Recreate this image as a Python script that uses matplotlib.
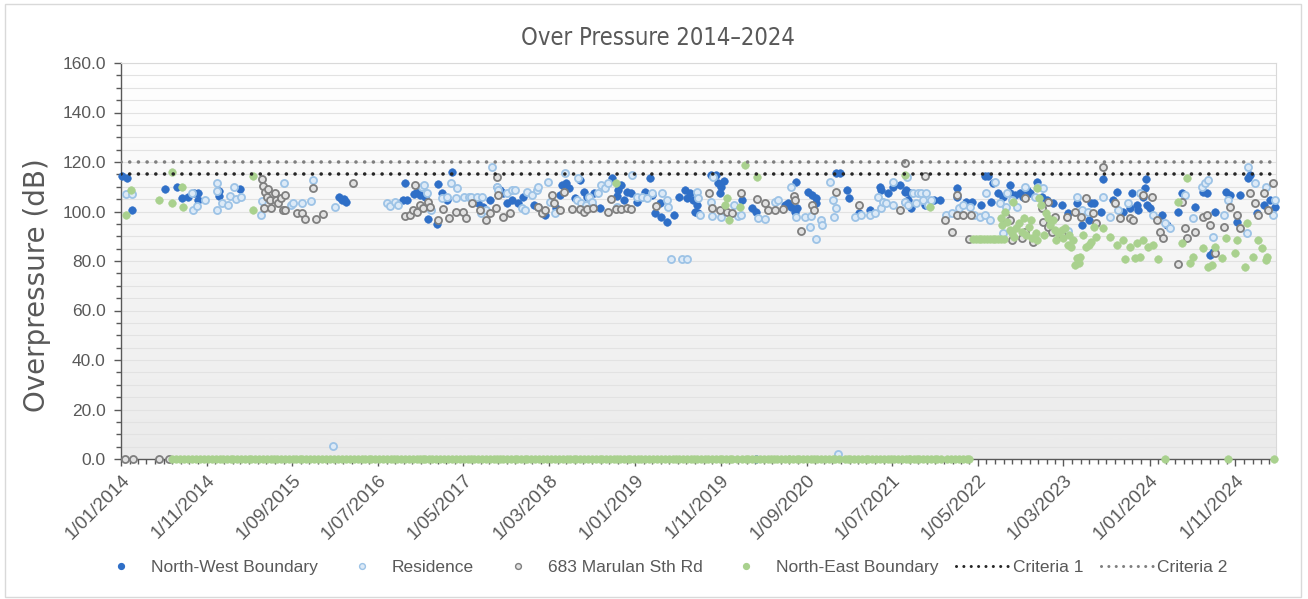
import numpy as np
import pandas as pd
import matplotlib
matplotlib.use("Agg")
import matplotlib.pyplot as plt
from matplotlib.ticker import MultipleLocator, FuncFormatter
from matplotlib.colors import LinearSegmentedColormap
from matplotlib.lines import Line2D
from matplotlib.patches import Rectangle
from matplotlib.transforms import ScaledTranslation
import matplotlib.dates as mdates

plt.rcParams['font.family'] = ['Liberation Sans', 'DejaVu Sans']

TITLE = "Over Pressure 2014\u20132024"
CRITERIA_1 = 115.0
CRITERIA_2 = 120.0
X_START, X_END = "2014-01-01", "2025-03-25"

# blast monitoring results (date, overpressure dB)
north_west = [
    ("2014-01-04", 114.3), ("2014-01-22", 113.5), ("2014-02-09", 100.6),
    ("2014-06-08", 109.1), ("2014-07-20", 110.0), ("2014-08-07", 105.5), ("2014-08-28", 106.0),
    ("2014-09-18", 107.5), ("2014-10-02", 107.5), ("2014-09-30", 104.6),
    ("2014-12-14", 108.3), ("2014-12-16", 106.3), ("2015-03-01", 109.1),
    ("2016-02-14", 106.0), ("2016-02-24", 104.6), ("2016-03-10", 104.0), ("2016-03-04", 105.2),
    ("2016-09-28", 104.6), ("2016-10-05", 111.5), ("2016-10-11", 104.6), ("2016-11-05", 107.0),
    ("2016-11-17", 108.0), ("2016-11-28", 106.7), ("2016-12-15", 106.0), ("2016-12-26", 97.0),
    ("2017-01-27", 95.0), ("2017-01-30", 111.1), ("2017-02-15", 107.5), ("2017-03-03", 104.6),
    ("2017-03-20", 116.0), ("2017-06-20", 103.4), ("2017-07-08", 101.8), ("2017-08-03", 104.6),
    ("2017-08-27", 110.0), ("2017-09-06", 108.7), ("2017-09-18", 107.5), ("2017-10-02", 103.4),
    ("2017-10-21", 104.6), ("2017-11-10", 103.4), ("2017-11-28", 106.0),
    ("2018-01-06", 102.6), ("2018-01-20", 101.8), ("2018-02-13", 98.6), ("2018-03-27", 101.4),
    ("2018-04-07", 106.7), ("2018-04-17", 110.7), ("2018-05-01", 111.5), ("2018-05-11", 109.5),
    ("2018-06-01", 105.4), ("2018-06-17", 112.7), ("2018-07-04", 108.0), ("2018-07-15", 106.0),
    ("2018-07-31", 102.6), ("2018-08-08", 107.5), ("2018-08-28", 101.4), ("2018-09-13", 110.0),
    ("2018-10-09", 113.5), ("2018-10-27", 106.3), ("2018-11-01", 108.7), ("2018-11-13", 110.7),
    ("2018-11-23", 104.6), ("2018-12-01", 108.0), ("2018-12-18", 107.5),
    ("2019-01-07", 103.8), ("2019-01-17", 105.4), ("2019-02-05", 108.0), ("2019-02-22", 113.5),
    ("2019-03-01", 106.7), ("2019-03-11", 99.4), ("2019-03-29", 103.4), ("2019-04-04", 97.8),
    ("2019-04-22", 95.8), ("2019-05-19", 98.6), ("2019-06-06", 106.0), ("2019-06-25", 108.7),
    ("2019-07-02", 105.4), ("2019-07-13", 107.5), ("2019-07-24", 104.6), ("2019-07-31", 99.8),
    ("2019-08-07", 102.6), ("2019-08-10", 99.4), ("2019-09-26", 114.7), ("2019-10-14", 114.7),
    ("2019-10-21", 111.5), ("2019-10-29", 107.5), ("2019-11-02", 110.0), ("2019-11-12", 112.3),
    ("2020-01-14", 104.6), ("2020-02-19", 101.4), ("2020-03-03", 99.8), ("2020-03-06", 0.0),
    ("2020-06-16", 102.6), ("2020-06-26", 103.4), ("2020-07-07", 101.8), ("2020-07-21", 99.8),
    ("2020-07-24", 112.0), ("2020-07-27", 101.4), ("2020-09-07", 108.0), ("2020-09-18", 106.7),
    ("2020-10-02", 105.4), ("2020-10-03", 103.4), ("2020-12-15", 115.6), ("2020-12-29", 115.6),
    ("2021-01-21", 108.7), ("2021-01-28", 105.4), ("2021-03-04", 99.4), ("2021-04-14", 100.6),
    ("2021-05-20", 110.0), ("2021-05-24", 108.7), ("2021-06-17", 107.5), ("2021-07-05", 110.0),
    ("2021-07-29", 110.7), ("2021-08-16", 108.0), ("2021-08-17", 103.8), ("2021-08-19", 108.7),
    ("2021-08-26", 104.6), ("2021-09-02", 107.5), ("2021-09-05", 101.4), ("2021-10-27", 102.6),
    ("2021-11-25", 104.6), ("2021-12-19", 104.6),
    ("2022-02-17", 109.5), ("2022-02-18", 105.8), ("2022-03-20", 103.8), ("2022-04-09", 103.8),
    ("2022-05-13", 102.6), ("2022-05-28", 114.3), ("2022-06-06", 114.3), ("2022-06-17", 103.8),
    ("2022-06-23", 111.5), ("2022-07-11", 107.5), ("2022-07-30", 106.0), ("2022-08-07", 96.6),
    ("2022-08-22", 110.7), ("2022-08-24", 107.5), ("2022-09-10", 106.7), ("2022-09-27", 107.5),
    ("2022-10-08", 105.8), ("2022-10-22", 108.7), ("2022-11-01", 107.5), ("2022-11-27", 111.9),
    ("2022-12-14", 105.8), ("2023-01-02", 104.6), ("2023-01-23", 103.4), ("2023-02-25", 102.6),
    ("2023-03-16", 99.4), ("2023-04-17", 103.4), ("2023-05-05", 94.5), ("2023-06-01", 96.6),
    ("2023-06-08", 103.4), ("2023-06-19", 103.4), ("2023-07-14", 99.8), ("2023-07-18", 113.1),
    ("2023-08-24", 104.6), ("2023-09-07", 108.0), ("2023-09-28", 99.8), ("2023-10-23", 101.4),
    ("2023-10-30", 107.5), ("2023-11-17", 102.6), ("2023-11-20", 100.6), ("2023-12-08", 105.8),
    ("2023-12-15", 109.5), ("2023-12-20", 113.1), ("2023-12-22", 102.6), ("2024-01-03", 101.4),
    ("2024-02-14", 98.6), ("2024-03-02", 94.5), ("2024-04-10", 99.8), ("2024-04-24", 107.5),
    ("2024-06-09", 101.8), ("2024-07-08", 108.0), ("2024-07-22", 107.5), ("2024-08-01", 82.4),
    ("2024-08-12", 83.6), ("2024-08-19", 99.8), ("2024-09-30", 108.0), ("2024-10-11", 106.7),
    ("2024-11-08", 95.8), ("2024-11-18", 106.7), ("2024-12-15", 113.5), ("2024-12-22", 114.7),
    ("2025-01-18", 99.4), ("2025-02-09", 102.6), ("2025-03-03", 104.6), ("2025-03-20", 101.8),
]

residence = [
    ("2014-01-18", 107.0), ("2014-02-08", 107.0), ("2014-09-10", 107.5), ("2014-09-14", 100.6),
    ("2014-09-28", 102.2), ("2014-10-28", 104.6), ("2014-12-07", 111.5), ("2014-12-08", 108.3),
    ("2014-12-09", 100.6), ("2014-12-26", 103.4), ("2015-01-15", 102.6), ("2015-01-22", 106.3),
    ("2015-02-06", 110.0), ("2015-02-13", 105.0), ("2015-03-04", 106.0), ("2015-05-14", 98.6),
    ("2015-05-16", 104.2), ("2015-08-03", 111.5), ("2015-08-28", 102.6), ("2015-09-04", 103.4),
    ("2015-10-05", 103.4), ("2015-11-07", 104.2), ("2015-11-13", 112.7), ("2016-01-25", 5.2),
    ("2016-02-01", 101.8), ("2016-08-02", 103.4), ("2016-08-12", 102.2), ("2016-08-30", 103.8),
    ("2016-09-10", 102.6), ("2016-12-04", 110.0), ("2016-12-13", 110.7), ("2016-12-22", 107.5),
    ("2017-01-07", 100.6), ("2017-02-12", 105.4), ("2017-03-02", 106.0), ("2017-03-19", 111.5),
    ("2017-04-05", 105.4), ("2017-04-07", 109.5), ("2017-05-04", 106.0), ("2017-05-20", 106.0),
    ("2017-05-29", 106.0), ("2017-06-18", 106.0), ("2017-07-07", 106.0), ("2017-07-03", 99.4),
    ("2017-07-21", 100.6), ("2017-08-12", 118.0), ("2017-08-27", 110.0), ("2017-08-31", 108.7),
    ("2017-10-03", 107.5), ("2017-10-21", 108.7), ("2017-10-31", 108.7), ("2017-11-25", 101.4),
    ("2017-12-06", 100.6), ("2017-12-13", 108.0), ("2017-12-30", 106.7), ("2018-01-17", 108.7),
    ("2018-01-20", 110.0), ("2018-02-24", 112.0), ("2018-03-03", 103.8), ("2018-03-22", 99.4),
    ("2018-04-26", 115.6), ("2018-06-07", 104.6), ("2018-06-10", 113.5), ("2018-06-24", 103.4),
    ("2018-07-11", 102.6), ("2018-07-21", 106.0), ("2018-08-02", 103.8), ("2018-08-20", 107.5),
    ("2018-09-03", 110.7), ("2018-09-14", 109.5), ("2018-09-25", 111.5), ("2018-10-29", 101.8),
    ("2018-12-20", 114.7), ("2019-01-07", 106.0), ("2019-01-25", 106.0), ("2019-02-11", 105.4),
    ("2019-03-01", 107.5), ("2019-04-05", 107.5), ("2019-04-23", 104.6), ("2019-04-26", 101.8),
    ("2019-05-09", 80.8), ("2019-06-17", 80.8), ("2019-07-05", 80.8), ("2019-08-08", 108.0),
    ("2019-08-11", 105.4), ("2019-08-18", 98.6), ("2019-09-26", 103.8), ("2019-10-02", 98.2),
    ("2019-10-03", 113.9), ("2019-10-31", 97.8), ("2019-12-19", 102.6), ("2019-12-30", 98.2),
    ("2020-01-12", 98.6), ("2020-03-13", 97.4), ("2020-04-06", 97.0), ("2020-05-11", 103.8),
    ("2020-05-21", 104.6), ("2020-07-07", 110.0), ("2020-07-25", 97.8), ("2020-08-26", 97.8),
    ("2020-09-13", 93.7), ("2020-09-17", 98.2), ("2020-10-05", 88.9), ("2020-10-20", 96.6),
    ("2020-10-24", 94.5), ("2020-11-24", 112.0), ("2020-12-04", 104.6), ("2020-12-05", 97.8),
    ("2020-12-12", 101.4), ("2020-12-20", 2.0), ("2021-02-19", 97.8), ("2021-03-11", 98.6),
    ("2021-04-15", 98.6), ("2021-05-01", 99.4), ("2021-05-13", 106.0), ("2021-05-23", 101.4),
    ("2021-05-30", 103.8), ("2021-06-10", 103.4), ("2021-07-04", 102.6), ("2021-07-05", 112.0),
    ("2021-08-16", 103.8), ("2021-08-22", 113.9), ("2021-08-26", 102.6), ("2021-09-13", 107.5),
    ("2021-09-23", 103.4), ("2021-09-30", 107.5), ("2021-10-11", 107.5), ("2021-10-18", 104.6),
    ("2021-10-28", 107.5), ("2021-11-06", 102.6), ("2021-11-15", 104.6), ("2022-01-07", 98.6),
    ("2022-01-28", 99.4), ("2022-02-22", 101.4), ("2022-03-10", 102.6), ("2022-04-05", 101.8),
    ("2022-04-16", 98.6), ("2022-05-08", 97.8), ("2022-05-27", 98.6), ("2022-05-31", 107.5),
    ("2022-06-14", 96.6), ("2022-07-01", 112.0), ("2022-07-20", 103.4), ("2022-07-30", 91.3),
    ("2022-08-11", 101.8), ("2022-08-12", 107.5), ("2022-08-29", 104.6), ("2022-09-17", 101.8),
    ("2022-10-15", 110.0), ("2022-11-20", 105.8), ("2022-11-30", 110.0), ("2022-12-19", 109.5),
    ("2023-03-16", 92.1), ("2023-04-17", 105.8), ("2023-05-05", 100.6), ("2023-05-26", 99.8),
    ("2023-07-18", 105.8), ("2023-08-12", 97.8), ("2023-09-11", 100.6), ("2023-10-16", 103.4),
    ("2023-11-27", 107.5), ("2024-01-13", 98.6), ("2024-02-24", 95.4), ("2024-03-13", 93.3),
    ("2024-05-05", 106.7), ("2024-06-02", 97.4), ("2024-07-04", 110.0), ("2024-07-15", 111.5),
    ("2024-07-25", 112.7), ("2024-08-12", 89.7), ("2024-09-23", 98.6), ("2024-10-04", 104.6),
    ("2024-12-12", 91.3), ("2024-12-15", 118.0), ("2025-01-11", 111.5), ("2025-02-16", 110.0),
    ("2025-03-13", 98.6), ("2025-03-20", 104.6),
]

marulan = [
    ("2014-01-15", 0.0), ("2014-02-12", 0.0), ("2014-05-15", 0.0), ("2014-06-22", 0.0),
    ("2015-05-18", 113.3), ("2015-05-20", 110.3), ("2015-05-22", 101.4), ("2015-05-29", 108.0),
    ("2015-06-02", 106.0), ("2015-06-08", 109.0), ("2015-06-14", 104.6), ("2015-06-18", 101.4),
    ("2015-07-02", 107.5), ("2015-07-07", 104.6), ("2015-07-13", 103.4), ("2015-07-23", 105.4),
    ("2015-07-30", 100.6), ("2015-08-06", 106.7), ("2015-08-08", 100.6), ("2015-09-17", 99.4),
    ("2015-10-04", 99.4), ("2015-10-15", 97.0), ("2015-11-14", 109.5), ("2015-11-23", 97.0),
    ("2015-12-18", 99.0), ("2016-04-02", 111.5), ("2016-10-04", 98.2), ("2016-10-22", 98.6),
    ("2016-11-02", 100.6), ("2016-11-10", 110.7), ("2016-11-16", 99.8), ("2016-11-27", 102.6),
    ("2016-12-07", 101.4), ("2016-12-26", 103.8), ("2017-01-01", 101.8), ("2017-01-31", 96.6),
    ("2017-02-17", 101.0), ("2017-03-12", 97.4), ("2017-04-06", 99.8), ("2017-04-28", 99.8),
    ("2017-05-11", 97.4), ("2017-06-02", 103.4), ("2017-06-27", 100.6), ("2017-07-21", 96.6),
    ("2017-08-02", 99.4), ("2017-08-26", 101.4), ("2017-08-28", 114.0), ("2017-08-30", 106.7),
    ("2017-09-19", 97.8), ("2017-10-12", 99.4), ("2018-01-21", 101.8), ("2018-02-03", 99.4),
    ("2018-02-14", 100.6), ("2018-03-13", 106.7), ("2018-03-20", 103.4), ("2018-04-07", 100.6),
    ("2018-04-24", 108.0), ("2018-05-22", 101.0), ("2018-06-17", 101.0), ("2018-07-04", 99.8),
    ("2018-07-14", 101.0), ("2018-08-03", 101.4), ("2018-09-25", 99.8), ("2018-10-08", 105.0),
    ("2018-10-26", 101.0), ("2018-11-13", 101.0), ("2018-12-01", 101.4), ("2018-12-18", 101.0),
    ("2019-03-16", 102.2), ("2019-09-21", 107.5), ("2019-10-01", 101.4), ("2019-10-30", 100.6),
    ("2019-11-24", 99.8), ("2019-12-12", 99.4), ("2020-01-12", 107.5), ("2020-03-08", 105.0),
    ("2020-04-06", 103.4), ("2020-04-17", 100.6), ("2020-05-11", 100.6), ("2020-06-08", 101.0),
    ("2020-07-17", 106.3), ("2020-07-20", 104.6), ("2020-08-11", 92.1), ("2020-09-18", 102.6),
    ("2020-09-25", 100.6), ("2020-12-13", 107.9), ("2021-03-04", 102.6), ("2021-07-29", 100.6),
    ("2021-08-17", 119.6), ("2021-10-27", 114.3), ("2022-01-04", 96.6), ("2022-01-29", 91.7),
    ("2022-02-16", 106.7), ("2022-02-17", 98.6), ("2022-03-10", 98.6), ("2022-03-31", 88.9),
    ("2022-04-06", 98.6), ("2022-08-11", 97.8), ("2022-08-25", 96.6), ("2022-08-29", 88.5),
    ("2022-10-04", 89.3), ("2022-10-15", 91.7), ("2022-10-16", 105.4), ("2022-11-13", 87.7),
    ("2022-12-14", 101.4), ("2022-12-18", 95.8), ("2023-01-05", 103.8), ("2023-01-06", 93.7),
    ("2023-01-20", 91.7), ("2023-01-31", 97.8), ("2023-02-24", 90.5), ("2023-03-15", 97.8),
    ("2023-04-10", 99.8), ("2023-05-04", 97.8), ("2023-05-22", 105.4), ("2023-06-13", 99.4),
    ("2023-06-26", 95.4), ("2023-07-18", 118.0), ("2023-08-31", 103.4), ("2023-09-18", 97.4),
    ("2023-10-23", 97.4), ("2023-11-03", 96.6), ("2023-12-08", 106.7), ("2024-01-10", 105.8),
    ("2024-01-27", 96.6), ("2024-02-07", 91.7), ("2024-02-17", 89.3), ("2024-04-10", 78.8),
    ("2024-04-24", 103.8), ("2024-05-05", 93.3), ("2024-05-12", 89.3), ("2024-06-09", 91.7),
    ("2024-07-08", 97.8), ("2024-07-22", 98.6), ("2024-08-01", 94.5), ("2024-08-19", 83.2),
    ("2024-09-23", 93.7), ("2024-10-11", 101.8), ("2024-11-08", 98.6), ("2024-11-18", 93.3),
    ("2024-12-22", 107.5), ("2025-01-11", 103.4), ("2025-01-21", 98.6), ("2025-02-09", 107.5),
    ("2025-02-26", 100.6), ("2025-03-13", 111.5),
]

north_east = [
    ("2014-01-18", 98.6), ("2014-02-07", 108.6), ("2014-05-15", 104.6), ("2014-06-30", 116.0),
    ("2014-07-01", 103.6), ("2014-08-07", 110.0), ("2014-08-08", 102.0), ("2015-04-13", 114.3),
    ("2015-04-14", 100.6), ("2018-10-25", 111.5), ("2019-11-14", 102.6), ("2019-11-24", 105.4),
    ("2019-11-30", 96.6), ("2020-01-07", 101.8), ("2020-01-27", 118.8), ("2020-03-09", 114.0),
    ("2021-08-16", 114.7), ("2021-11-13", 101.8),
    ("2022-04-14", 88.9), ("2022-04-24", 88.9), ("2022-05-04", 88.9), ("2022-05-14", 88.9),
    ("2022-05-24", 88.9), ("2022-06-03", 88.9), ("2022-06-13", 88.9), ("2022-06-23", 88.9),
    ("2022-07-03", 88.9), ("2022-07-13", 88.9), ("2022-07-23", 88.9), ("2022-08-02", 88.9),
    ("2022-07-22", 97.4), ("2022-07-27", 94.5), ("2022-08-06", 99.8), ("2022-08-12", 95.8),
    ("2022-08-22", 92.5), ("2022-08-29", 91.3), ("2022-09-02", 103.8), ("2022-09-08", 89.7),
    ("2022-09-15", 93.3), ("2022-09-25", 95.4), ("2022-10-06", 91.7), ("2022-10-12", 97.4),
    ("2022-10-20", 90.5), ("2022-10-30", 93.7), ("2022-11-06", 96.6), ("2022-11-10", 89.3),
    ("2022-11-24", 91.3), ("2022-11-28", 88.5), ("2022-11-29", 109.5), ("2022-12-06", 105.4),
    ("2022-12-13", 102.6), ("2022-12-22", 90.5), ("2022-12-31", 99.4), ("2023-01-05", 97.4),
    ("2023-01-12", 94.5), ("2023-01-24", 96.6), ("2023-01-31", 92.5), ("2023-02-03", 88.5),
    ("2023-02-10", 91.3), ("2023-02-24", 92.5), ("2023-02-27", 89.3), ("2023-03-06", 93.3),
    ("2023-03-16", 86.5), ("2023-03-22", 90.5), ("2023-03-29", 85.7), ("2023-04-03", 88.5),
    ("2023-04-10", 78.4), ("2023-04-17", 81.2), ("2023-04-27", 79.2), ("2023-04-28", 81.6),
    ("2023-05-10", 90.5), ("2023-05-22", 85.7), ("2023-05-30", 86.5), ("2023-06-08", 87.7),
    ("2023-06-18", 93.7), ("2023-06-26", 89.7), ("2023-07-18", 93.3), ("2023-08-12", 89.7),
    ("2023-09-07", 86.5), ("2023-09-28", 88.5), ("2023-10-06", 80.8), ("2023-10-23", 85.7),
    ("2023-11-10", 81.2), ("2023-11-17", 87.3), ("2023-11-27", 81.6), ("2023-12-08", 88.5),
    ("2023-12-26", 85.7), ("2024-01-13", 86.5), ("2024-01-31", 80.8), ("2024-02-24", 0.0),
    ("2024-04-10", 103.8), ("2024-04-24", 87.3), ("2024-05-12", 113.5), ("2024-05-22", 79.2),
    ("2024-06-02", 81.6), ("2024-07-08", 85.3), ("2024-07-25", 77.6), ("2024-08-08", 78.4),
    ("2024-08-19", 85.7), ("2024-09-16", 81.2), ("2024-09-30", 89.3), ("2024-10-07", 0.0),
    ("2024-11-01", 83.2), ("2024-11-08", 88.5), ("2024-12-05", 77.6), ("2024-12-12", 95.4),
    ("2025-01-04", 81.6), ("2025-01-21", 88.5), ("2025-02-05", 85.3), ("2025-02-16", 80.4),
    ("2025-02-22", 81.6), ("2025-03-18", 0.0),
]

# North-East boundary blasts that registered 0.0 dB
north_east_zero_dates = """
2014-07-02 2014-07-16 2014-07-28 2014-08-13 2014-08-27 2014-09-10 2014-09-24 2014-10-08 2014-10-22 2014-11-05 2014-11-19 2014-12-03 2014-12-17 2014-12-30
2015-01-14 2015-01-28 2015-02-04 2015-02-18 2015-03-04 2015-03-18 2015-03-30 2015-04-08 2015-04-22 2015-05-06 2015-05-20 2015-06-03 2015-06-17 2015-06-29
2015-07-08 2015-07-22 2015-08-05 2015-08-19 2015-09-02 2015-09-16 2015-09-28 2015-10-07 2015-10-21 2015-11-04 2015-11-18 2015-12-02 2015-12-16 2015-12-29
2016-01-13 2016-01-27 2016-02-10 2016-02-24 2016-03-09 2016-03-23 2016-04-06 2016-04-20 2016-05-04 2016-05-18 2016-05-30 2016-06-08 2016-06-22
2016-07-06 2016-07-20 2016-08-03 2016-08-17 2016-08-29 2016-09-07 2016-09-21 2016-10-05 2016-10-19 2016-11-02 2016-11-16 2016-11-28 2016-12-07 2016-12-14 2016-12-28
2017-01-11 2017-01-25 2017-02-08 2017-02-22 2017-03-08 2017-03-22 2017-04-05 2017-04-19 2017-05-03 2017-05-17 2017-05-29 2017-06-07 2017-06-21
2017-07-05 2017-07-19 2017-08-02 2017-08-16 2017-08-28 2017-09-06 2017-09-20 2017-10-04 2017-10-18 2017-10-30 2017-11-08 2017-11-22 2017-12-06 2017-12-13 2017-12-27
2018-01-10 2018-01-24 2018-02-07 2018-02-21 2018-03-07 2018-03-21 2018-04-04 2018-04-18 2018-05-02 2018-05-16 2018-05-28 2018-06-06 2018-06-20
2018-07-04 2018-07-18 2018-08-01 2018-08-15 2018-08-27 2018-09-05 2018-09-19 2018-10-03 2018-10-17 2018-10-29 2018-11-07 2018-11-21 2018-12-05 2018-12-12 2018-12-27
2019-01-09 2019-01-23 2019-02-06 2019-02-20 2019-03-06 2019-03-20 2019-04-03 2019-04-17 2019-05-01 2019-05-15 2019-05-27 2019-06-05 2019-06-19
2019-07-03 2019-07-17 2019-07-29 2019-08-07 2019-08-21 2019-09-04 2019-09-18 2019-10-02 2019-10-16 2019-10-28 2019-11-06 2019-11-20 2019-12-04 2019-12-11 2019-12-27
2020-01-15 2020-01-29 2020-02-05 2020-02-19 2020-03-04 2020-03-18 2020-04-01 2020-04-15 2020-04-27 2020-05-06 2020-05-20 2020-06-03 2020-06-17 2020-06-29
2020-07-01 2020-07-15 2020-07-27 2020-08-05 2020-08-19 2020-09-02 2020-09-16 2020-09-28 2020-10-07 2020-10-21 2020-11-04 2020-11-18 2020-12-02 2020-12-09 2020-12-23
2021-01-13 2021-01-27 2021-02-03 2021-02-17 2021-03-03 2021-03-17 2021-03-29 2021-04-07 2021-04-21 2021-05-05 2021-05-19 2021-06-02 2021-06-16 2021-06-28
2021-07-07 2021-07-21 2021-08-04 2021-08-18 2021-08-30 2021-09-01 2021-09-15 2021-09-27 2021-10-06 2021-10-20 2021-11-03 2021-11-17 2021-12-01 2021-12-08 2021-12-22
2022-01-12 2022-01-26 2022-02-09 2022-02-23 2022-03-09 2022-03-23 2022-04-01
""".split()

series_labels = ["North-West Boundary", "Residence", "683 Marulan Sth Rd", "North-East Boundary"]
criteria_labels = ["Criteria 1", "Criteria 2"]


def split(pairs):
    dates = pd.to_datetime([p[0] for p in pairs])
    values = np.array([p[1] for p in pairs], dtype=float)
    return dates, values


nw_d, nw_v = split(north_west)
res_d, res_v = split(residence)
mar_d, mar_v = split(marulan)
ne_d, ne_v = split(north_east + [(d, 0.0) for d in north_east_zero_dates])

fig = plt.figure(figsize=(13.08, 5.99), dpi=100)
fig.patch.set_facecolor('white')
fig.add_artist(Rectangle((0.004, 0.004), 0.991, 0.99, transform=fig.transFigure,
                         fill=False, edgecolor='#d9d9d9', lw=1))

ax = fig.add_axes([121 / 1308, 1 - 459 / 599, (1276 - 121) / 1308, (459 - 63) / 599])

# soft vertical gradient behind the plot area
bg = LinearSegmentedColormap.from_list('bg', ['#ffffff', '#ebebeb'])
ax.imshow(np.linspace(0, 1, 256).reshape(-1, 1), cmap=bg, extent=(0, 1, 0, 1),
          transform=ax.transAxes, aspect='auto', zorder=0, interpolation='bicubic')

ms = 30
ax.scatter(nw_d, nw_v, s=ms, c='#2F6FC7', edgecolors='#2F6FC7', linewidths=0.4,
           zorder=3, clip_on=False)
ax.scatter(res_d, res_v, s=26, c='#DDEAF7', edgecolors='#9DC3E6', linewidths=1.3,
           zorder=4, clip_on=False)
ax.scatter(mar_d, mar_v, s=26, c='#E2E2E2', edgecolors='#7F7F7F', linewidths=1.3,
           zorder=5, clip_on=False)
ax.scatter(ne_d, ne_v, s=ms, c='#A9D18E', edgecolors='#A9D18E', linewidths=0.4,
           zorder=6, clip_on=False)

dot = (0, (0.01, 2.4))
ax.axhline(CRITERIA_1, color='#262626', lw=2.6, linestyle=dot, dash_capstyle='round', zorder=7)
ax.axhline(CRITERIA_2, color='#7f7f7f', lw=2.6, linestyle=dot, dash_capstyle='round', zorder=7)

ax.set_xlim(pd.Timestamp(X_START), pd.Timestamp(X_END))
ax.set_ylim(0, 160)

ax.yaxis.set_major_locator(MultipleLocator(20))
ax.yaxis.set_minor_locator(MultipleLocator(5))
ax.yaxis.set_major_formatter(FuncFormatter(lambda v, p: f"{v:.1f}"))
ax.yaxis.grid(True, which='both', color='#e2e2e2', lw=0.8, zorder=1)
ax.set_axisbelow(True)

majors = pd.date_range(X_START, "2024-11-01", freq="10MS")
ax.set_xticks(majors)
ax.xaxis.set_minor_locator(mdates.MonthLocator())
ax.set_xticklabels([f"{d.day}/{d.month:02d}/{d.year}" for d in majors],
                   rotation=45, ha='right', rotation_mode='anchor')
shift = ScaledTranslation(-6 / 100, 0, fig.dpi_scale_trans)
for lab in ax.get_xticklabels():
    lab.set_transform(lab.get_transform() + shift)

ax.tick_params(axis='both', which='major', direction='out', length=5, width=1,
               color='#595959', labelcolor='#595959', labelsize=12.5)
ax.tick_params(axis='x', which='major', labelsize=13.5, pad=4)
ax.tick_params(axis='both', which='minor', direction='out', length=3.5, width=1,
               color='#595959')
ax.tick_params(axis='y', which='major', pad=6)

for side in ('left', 'bottom'):
    ax.spines[side].set_color('#595959')
    ax.spines[side].set_linewidth(1)
for side in ('right', 'top'):
    ax.spines[side].set_color('#d9d9d9')
    ax.spines[side].set_linewidth(0.8)

fig.text(0.503, 1 - 38 / 599, TITLE, ha='center', va='center', fontsize=17,
         color='#595959', family='DejaVu Sans', fontstretch='condensed')
fig.text(37 / 1308, 1 - 285 / 599, "Overpressure (dB)", rotation=90, ha='center',
         va='center', fontsize=20, color='#595959', family='DejaVu Sans')

handles = [
    Line2D([], [], ls='none', marker='o', ms=4.2, mfc='#2F6FC7', mec='#2F6FC7'),
    Line2D([], [], ls='none', marker='o', ms=4.2, mfc='#DDEAF7', mec='#9DC3E6', mew=1),
    Line2D([], [], ls='none', marker='o', ms=4.2, mfc='#E2E2E2', mec='#7F7F7F', mew=1),
    Line2D([], [], ls='none', marker='o', ms=4.2, mfc='#A9D18E', mec='#A9D18E'),
    Line2D([], [], color='#262626', lw=2.2, ls=dot, dash_capstyle='round'),
    Line2D([], [], color='#7f7f7f', lw=2.2, ls=dot, dash_capstyle='round'),
]
fig.legend(handles, series_labels + criteria_labels, loc='center',
           bbox_to_anchor=(0.5055, 1 - 567 / 599), ncol=6, frameon=False,
           fontsize=12.5, labelcolor='#595959', handlelength=3.0,
           handletextpad=0.25, columnspacing=1.0)

fig.savefig('out.png', dpi=100)
